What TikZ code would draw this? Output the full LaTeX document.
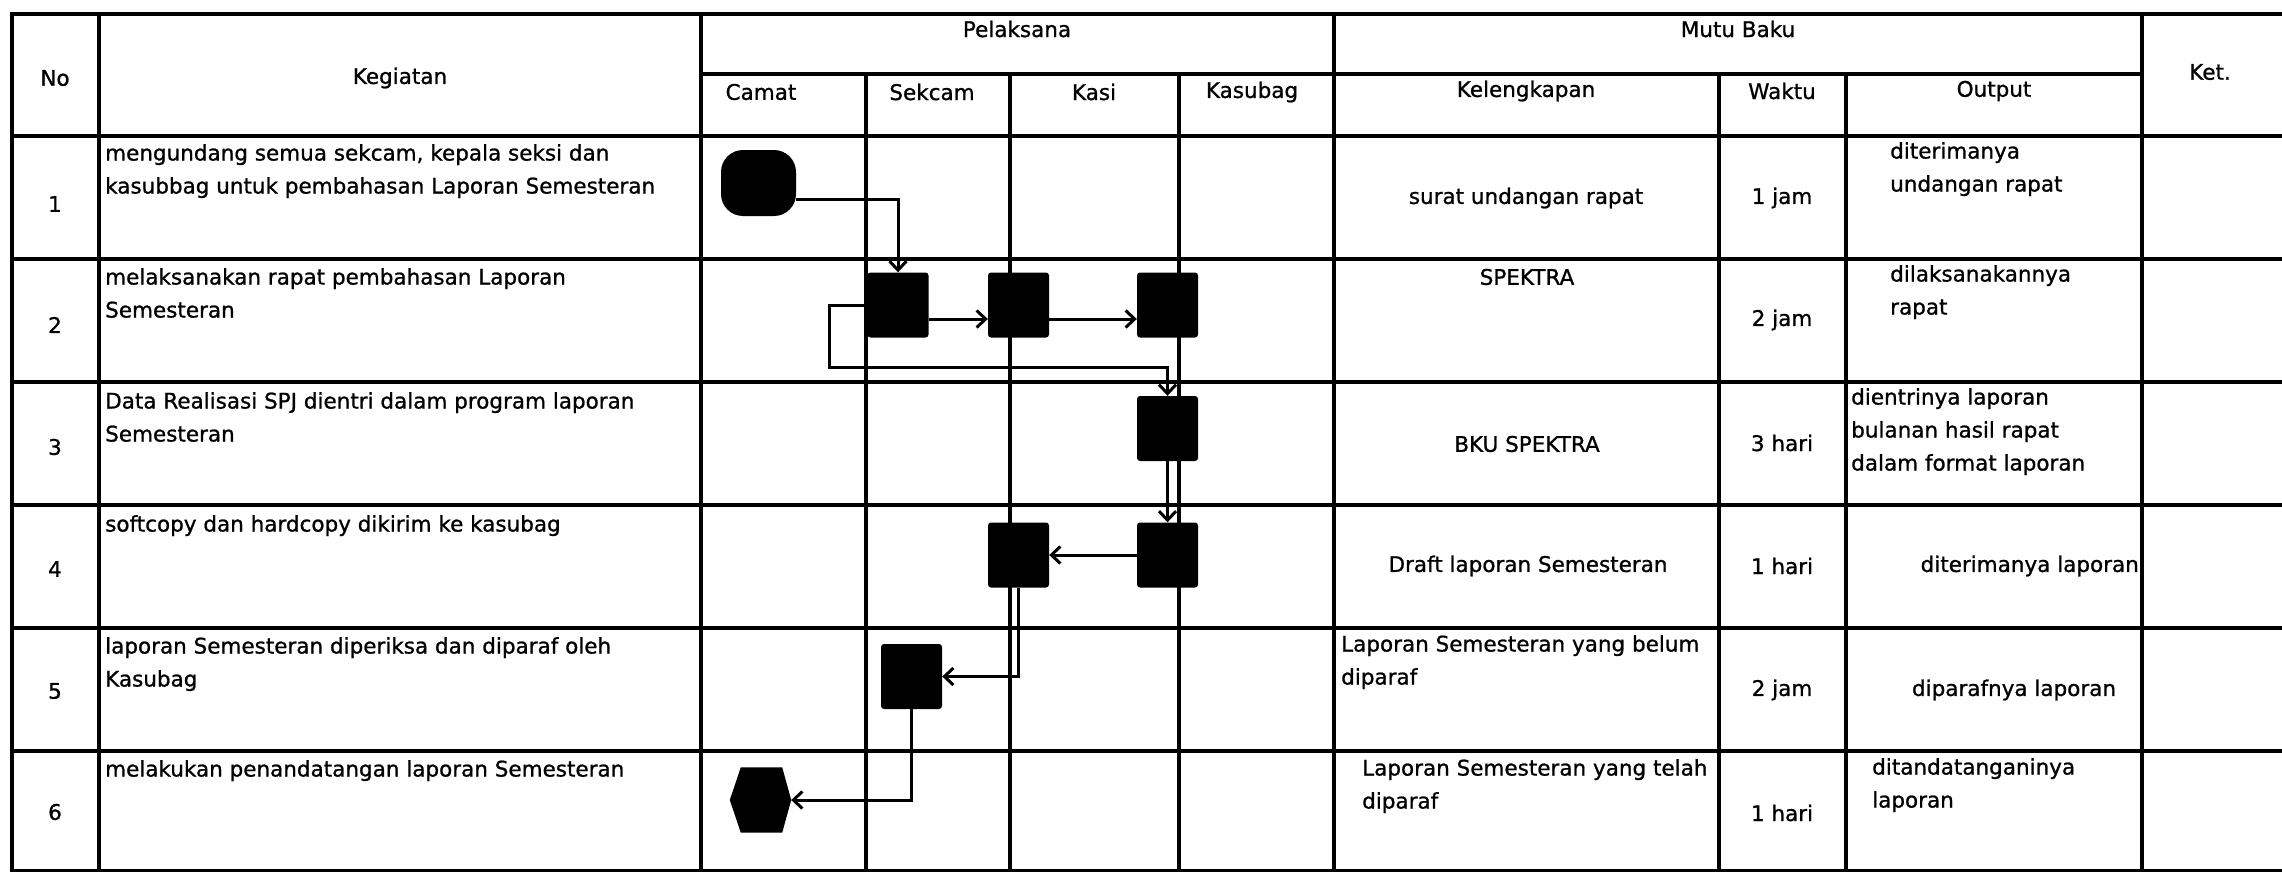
\documentclass[tikz,border=0pt]{standalone}
\usepackage{fontspec}
\setmainfont{DejaVu Sans}[FakeBold=1]
\usetikzlibrary{arrows.meta,calc}
\begin{document}
\begin{tikzpicture}[x=1pt,y=-1pt,
  gridline/.style={line width=3.2pt,line cap=rect},
  lbl/.style={font=\fontsize{21.5}{33}\selectfont,inner sep=0pt},
  ml/.style={lbl,align=left,anchor=north west},
  act/.style={fill=black,rounded corners=3pt,minimum width=61pt,minimum height=65pt,inner sep=0pt},
  term/.style={fill=black,rounded corners=22pt,minimum width=75pt,minimum height=66pt,inner sep=0pt},
  hexbox/.style={minimum width=61pt,minimum height=65pt,inner sep=0pt},
  flow/.style={line width=3pt,-{Straight Barb[length=9pt,width=17pt]}}]
\useasboundingbox (0,0) rectangle (2282,872);
\fill[white] (0,0) rectangle (2282,872);
% ---------- table grid ----------
\draw[gridline] (12,14) -- (2282,14);
\draw[gridline] (701,74) -- (2142,74);
\foreach \y in {136,259,382,505,628,751,871}
  \draw[gridline] (12,\y) -- (2282,\y);
\foreach \x in {12,99,701,1334,2142}
  \draw[gridline] (\x,14) -- (\x,871);
\foreach \x in {866,1010,1179,1719,1846}
  \draw[gridline] (\x,74) -- (\x,871);
% ---------- header ----------
\node[lbl] (hNo) at (55,78) {No};
\node[lbl] (hKeg) at (400,78) {Kegiatan};
\node[lbl] (hPel) at (1017,29) {Pelaksana};
\node[lbl] (hMutu) at (1738,29) {Mutu Baku};
\node[lbl] (hKet) at (2210,72) {Ket.};
\node[lbl] (hCamat) at (761,92) {Camat};
\node[lbl] (hSekcam) at (932,92) {Sekcam};
\node[lbl] (hKasi) at (1094,92) {Kasi};
\node[lbl] (hKasubag) at (1252,92) {Kasubag};
\node[lbl] (hKel) at (1526,91) {Kelengkapan};
\node[lbl] (hWaktu) at (1782,91) {Waktu};
\node[lbl] (hOut) at (1994,91) {Output};
% ---------- numbers ----------
\node[lbl] (n1) at (55,204) {1};
\node[lbl] (n2) at (55,325) {2};
\node[lbl] (n3) at (55,447) {3};
\node[lbl] (n4) at (55,569) {4};
\node[lbl] (n5) at (55,691) {5};
\node[lbl] (n6) at (55,812) {6};
% ---------- kegiatan ----------
\node[ml] (k1) at (105,144) {mengundang semua sekcam, kepala seksi dan\\kasubbag untuk pembahasan Laporan Semesteran};
\node[ml] (k2) at (105,268) {melaksanakan rapat pembahasan Laporan\\Semesteran};
\node[ml] (k3) at (105,392) {Data Realisasi SPJ dientri dalam program laporan\\Semesteran};
\node[ml] (k4) at (105,515) {softcopy dan hardcopy dikirim ke kasubag};
\node[ml] (k5) at (105,637) {laporan Semesteran diperiksa dan diparaf oleh\\Kasubag};
\node[ml] (k6) at (105,760) {melakukan penandatangan laporan Semesteran};
% ---------- kelengkapan ----------
\node[lbl] (l1) at (1526,198) {surat undangan rapat};
\node[lbl] (l2) at (1527,277) {SPEKTRA};
\node[lbl] (l3) at (1527,444) {BKU SPEKTRA};
\node[lbl] (l4) at (1528,566) {Draft laporan Semesteran};
\node[ml] (l5) at (1341,635) {Laporan Semesteran yang belum\\diparaf};
\node[ml] (l6) at (1362,759) {Laporan Semesteran yang telah\\diparaf};
% ---------- waktu ----------
\node[lbl] (w1) at (1782,198) {1 jam};
\node[lbl] (w2) at (1782,320) {2 jam};
\node[lbl] (w3) at (1782,443) {3 hari};
\node[lbl] (w4) at (1782,566) {1 hari};
\node[lbl] (w5) at (1782,690) {2 jam};
\node[lbl] (w6) at (1782,813) {1 hari};
% ---------- output ----------
\node[ml] (o1) at (1890,142) {diterimanya\\undangan rapat};
\node[ml] (o2) at (1890,265) {dilaksanakannya\\rapat};
\node[ml] (o3) at (1851,388) {dientrinya laporan\\bulanan hasil rapat\\dalam format laporan};
\node[lbl,anchor=east] (o4) at (2139,566) {diterimanya laporan};
\node[lbl] (o5) at (2014,690) {diparafnya laporan};
\node[ml] (o6) at (1872,758) {ditandatanganinya\\laporan};
% ---------- flow shapes ----------
\node[term] (t) at (758.5,183) {};
\node[act] (b1) at (898,305) {};
\node[act] (b2) at (1018.5,305) {};
\node[act] (b3) at (1167.5,305) {};
\node[act] (b4) at (1167.5,428.5) {};
\node[act] (b5) at (1167.5,555) {};
\node[act] (b6) at (1018.5,555) {};
\node[act] (b7) at (911.5,676.5) {};
\node[hexbox] (hx) at (760.5,800) {};
\fill (hx.west) -- ($(hx.north west)+(11,0)$) -- ($(hx.north east)+(-9,0)$) -- (hx.east)
  -- ($(hx.south east)+(-9,0)$) -- ($(hx.south west)+(11,0)$) -- cycle;
% ---------- connectors ----------
\draw[flow] ($(t.east)+(0,16)$) -| (b1.north);
\draw[flow] ($(b1.east)+(0,14)$) -- ($(b2.west)+(0,14)$);
\draw[flow] ($(b2.east)+(0,14)$) -- ($(b3.west)+(0,14)$);
\draw[flow] (b1.west) -- ++(-38,0) -- ++(0,62) -| (b4.north);
\draw[flow] (b4.south) -- (b5.north);
\draw[flow] (b5.west) -- (b6.east);
\draw[flow] (b6.south) |- (b7.east);
\draw[flow] (b7.south) |- (hx.east);
\end{tikzpicture}
\end{document}
